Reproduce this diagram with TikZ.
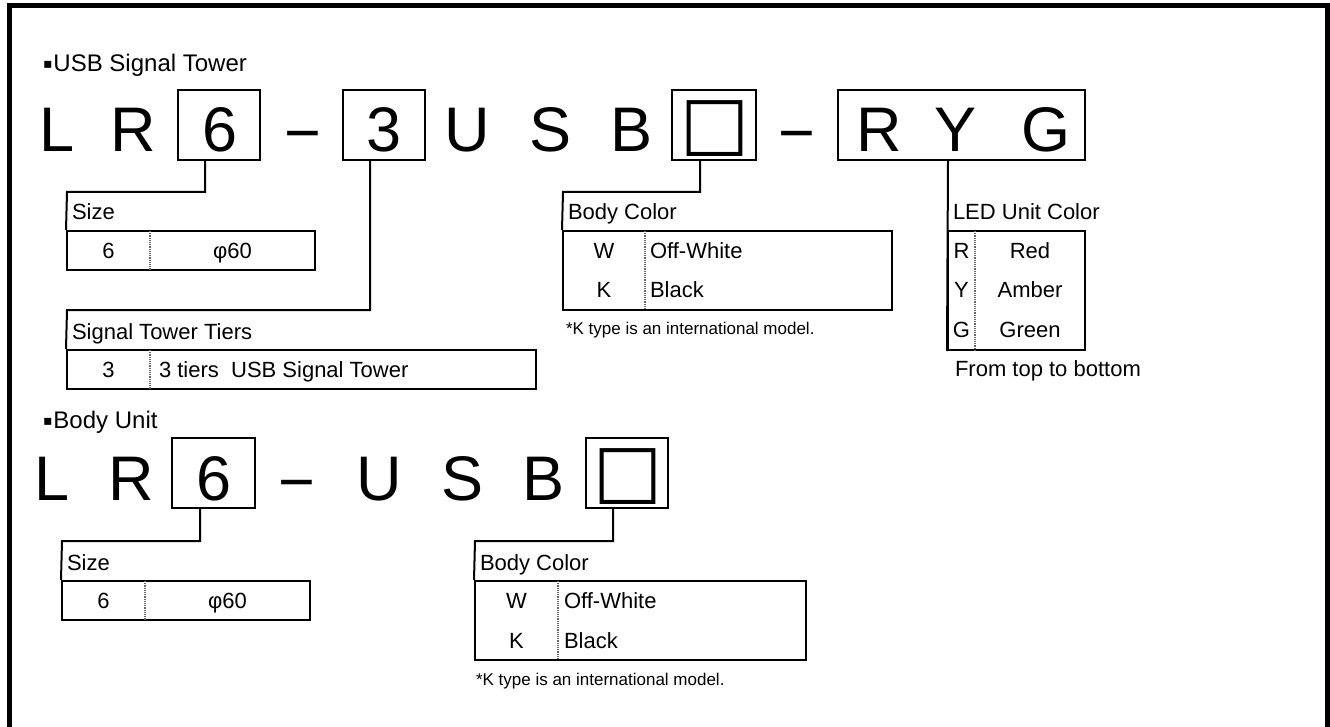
\documentclass[tikz,border=0pt]{standalone}
\usepackage{fontspec}
\setmainfont{Liberation Sans}
\newfontfamily\symfont{DejaVu Sans}
\newcommand\headdot{\raisebox{3pt}{\symfont\fontsize{14}{14}\selectfont ▪}\kern1pt}
\tikzset{
  bigchar/.style = {font=\fontsize{63}{63}\selectfont, inner sep=0, anchor=base},
  boxchar/.style = {font=\fontsize{73}{73}\symfont\bfseries, inner sep=0},
  codebox/.style = {draw, line width=2pt, inner sep=0, minimum height=70pt},
  tabrow/.style = {draw, line width=2pt, inner sep=0},
  divider/.style = {line width=1.2pt, densely dotted, black!60},
}
\begin{document}
\begin{tikzpicture}[x=1pt, y=-1pt, line width=2pt]
\useasboundingbox (0,0) rectangle (1330,727);
\draw[line width=5pt] (9.5,740) -- (9.5,5.5) -- (1327.5,5.5) -- (1327.5,740);

\begin{scope}[every node/.style = {font=\fontsize{24}{28}\selectfont, inner sep=0, anchor=base west}]
\node (hTower) at (42,72) {\headdot USB Signal Tower};
\node (hBody) at (42,428) {\headdot Body Unit};
\end{scope}

\begin{scope}[every node/.style = bigchar]
\node (tL) at (57.5,152) {L};
\node (tR) at (133.5,152) {R};
\node (t6) at (220,152) {6};
\node (tD1) at (302.5,155) {−};
\node (t3) at (384,152) {3};
\node (tU) at (467,152) {U};
\node (tS) at (551,152) {S};
\node (tB) at (632,152) {B};
\node (tD2) at (796.5,155) {−};
\node (tR2) at (879.5,152) {R};
\node (tY) at (955.5,152) {Y};
\node (tG) at (1046,152) {G};
\node (bL) at (52,500) {L};
\node (bR) at (131.5,500) {R};
\node (b6) at (214,500) {6};
\node (bD1) at (297,503) {−};
\node (bU) at (379.5,500) {U};
\node (bS) at (463,500) {S};
\node (bB) at (543.5,500) {B};
\end{scope}
\node[boxchar] (tSq) at (714.5,129) {□};
\node[boxchar] (bSq) at (627.5,477) {□};

\begin{scope}[every node/.style = codebox]
\node[minimum width=82pt] (s6) at (219,125) {};
\node[minimum width=82pt] (s3) at (384,125) {};
\node[minimum width=84pt] (sCol) at (714,125) {};
\node[minimum width=247pt] (sLed) at (961.5,125) {};
\node[minimum width=83pt] (u6) at (213.5,473) {};
\node[minimum width=82pt] (uCol) at (627,473) {};
\end{scope}

\begin{scope}[every node/.style = tabrow]
\node[minimum width=248pt, minimum height=39pt] (szT) at (191,250.5) {};
\node[minimum width=469pt, minimum height=39pt] (trT) at (301.5,369.5) {};
\node[minimum width=329pt, minimum height=79pt] (bcT) at (727.5,270.5) {};
\node[minimum width=137pt, minimum height=119pt] (ldT) at (1016.5,290.5) {};
\node[minimum width=248pt, minimum height=39pt] (szB) at (186,600.5) {};
\node[minimum width=331pt, minimum height=79pt] (bcB) at (640.5,620.5) {};
\end{scope}

\coordinate (cSzT) at (67,192);
\coordinate (cTrT) at (67,310);
\coordinate (cBcT) at (563,192);
\coordinate (cSzB) at (62,541);
\coordinate (cBcB) at (475,541);
\draw ([xshift=-14pt]s6.south) |- (cSzT) -- (szT.north west);
\draw ([xshift=-14pt]s3.south) |- (cTrT) -- (trT.north west);
\draw ([xshift=-14pt]sCol.south) |- (cBcT) -- (bcT.north west);
\draw ([xshift=-13.5pt]sLed.south) -- (ldT.south west);
\draw ([xshift=-13.5pt]u6.south) |- (cSzB) -- (szB.north west);
\draw ([xshift=-14pt]uCol.south) |- (cBcB) -- (bcB.north west);

\draw[divider] (150,231) -- (150,270);
\draw[divider] (150,350) -- (150,389);
\draw[divider] (645,231) -- (645,310);
\draw[divider] (975,231) -- (975,350);
\draw[divider] (145,581) -- (145,620);
\draw[divider] (558,581) -- (558,660);

\begin{scope}[every node/.style = {font=\fontsize{22}{26}\selectfont, inner sep=0, anchor=base west}]
\node (lSzT) at (71,220) {Size};
\node (lTrT) at (71,339) {Signal Tower Tiers};
\node (lBcT) at (567,220) {Body Color};
\node (lLed) at (952,220) {LED Unit Color};
\node (lOrder) at (954,376) {From top to bottom};
\node (lSzB) at (66,570) {Size};
\node (lBcB) at (479,570) {Body Color};
\node (vTier) at (158,377.5) {3 tiers\ \ USB Signal Tower};
\node (vWT) at (649,258.5) {Off-White};
\node (vKT) at (649,298) {Black};
\node (vWB) at (563,608.5) {Off-White};
\node (vKB) at (563,648) {Black};
\end{scope}

\begin{scope}[every node/.style = {font=\fontsize{22}{26}\selectfont, inner sep=0, anchor=base}]
\node (kSzT) at (108.5,258.5) {6};
\node (dSzT) at (232.5,258.5) {φ60};
\node (kTr) at (108.5,377.5) {3};
\node (kWT) at (604,258.5) {W};
\node (kKT) at (604,298) {K};
\node (kR) at (961.5,258.5) {R};
\node (kY) at (961.5,298) {Y};
\node (kG) at (961.5,337.5) {G};
\node (dR) at (1030,258.5) {Red};
\node (dY) at (1030,298) {Amber};
\node (dG) at (1030,337.5) {Green};
\node (kSzB) at (103.5,608.5) {6};
\node (dSzB) at (227.5,608.5) {φ60};
\node (kWB) at (516.5,608.5) {W};
\node (kKB) at (516.5,648) {K};
\end{scope}

\begin{scope}[every node/.style = {font=\fontsize{17}{20}\selectfont, inner sep=0, anchor=base west}]
\node (nT) at (565,334) {*K type is an international model.};
\node (nB) at (475,685) {*K type is an international model.};
\end{scope}
\end{tikzpicture}
\end{document}
